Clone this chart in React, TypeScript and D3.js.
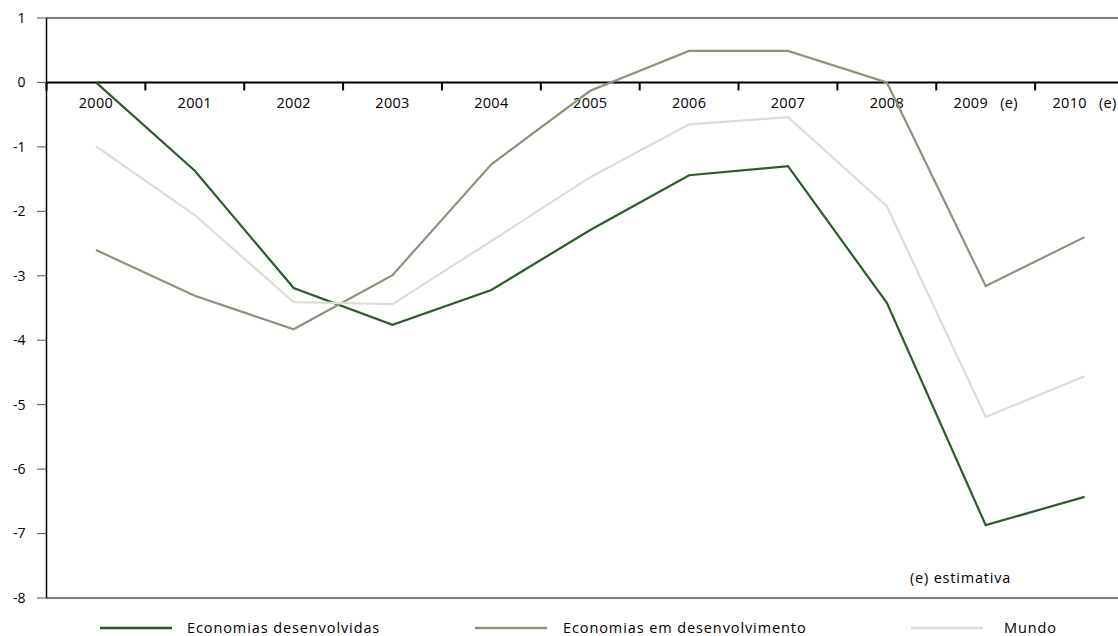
import React from "react";
import * as d3 from "d3";

const years = ["2000", "2001", "2002", "2003", "2004", "2005", "2006", "2007", "2008", "2009", "2010"];
const yearLabels = ["2000", "2001", "2002", "2003", "2004", "2005", "2006", "2007", "2008", "2009   (e)", "2010   (e)"];
const desenvolvidas = [0, -1.37, -3.19, -3.76, -3.22, -2.29, -1.44, -1.3, -3.42, -6.87, -6.43];
const emDesenvolvimento = [-2.6, -3.31, -3.83, -2.99, -1.27, -0.13, 0.49, 0.49, 0, -3.16, -2.4];
const mundo = [-0.99, -2.06, -3.41, -3.44, -2.46, -1.47, -0.65, -0.54, -1.92, -5.19, -4.56];
const yTicks = [1, 0, -1, -2, -3, -4, -5, -6, -7, -8];

const seriesNames = ["Economias desenvolvidas", "Economias em desenvolvimento", "Mundo"];
const seriesColors = ["#2e5a2c", "#87977c", "#dcded5"];

export default function App() {
  const W = 1118, H = 636;
  const left = 46.5, right = 1134, top = 18, bottom = 598;
  const x = d3.scaleBand<string>().domain(years).range([left, right]);
  const y = d3.scaleLinear().domain([-8, 1]).range([bottom, top]);
  const series = [desenvolvidas, emDesenvolvimento, mundo];
  const line = d3
    .line<number>()
    .x((_, i) => (x(years[i]) as number) + x.bandwidth() / 2)
    .y((d) => y(d));
  const font = "'Open Sans', 'DejaVu Sans', sans-serif";
  const legendY = 628;
  const legendPos = [
    { x1: 100, x2: 172, tx: 187 },
    { x1: 475, x2: 547, tx: 563 },
    { x1: 911, x2: 983, tx: 1004 },
  ];
  return (
    <svg width={W} height={H} style={{ position: "absolute", left: 0, top: 0, background: "#fff" }} fontFamily={font}>
      {/* frame */}
      <line x1={left} x2={W} y1={y(1)} y2={y(1)} stroke="#000" strokeWidth={1.2} />
      <line x1={left} x2={W} y1={y(-8)} y2={y(-8)} stroke="#000" strokeWidth={1.2} />
      <line x1={left} x2={left} y1={y(1)} y2={y(-8)} stroke="#000" strokeWidth={1.5} />
      {yTicks.map((t) => (
        <g key={t}>
          <line x1={37} x2={left} y1={y(t)} y2={y(t)} stroke="#555" strokeWidth={1} />
          <text x={25.5} y={y(t)} dy="0.35em" textAnchor="end" fontSize={14} fill="#000">
            {t}
          </text>
        </g>
      ))}
      {/* zero axis */}
      <line x1={left} x2={W} y1={y(0)} y2={y(0)} stroke="#000" strokeWidth={2} />
      {years.map((yr, i) => (
        <g key={yr}>
          <line
            x1={x(yr) as number}
            x2={x(yr) as number}
            y1={y(0)}
            y2={y(0) + 8}
            stroke="#000"
            strokeWidth={2}
          />
          <text
            x={(x(yr) as number) + x.bandwidth() / 2}
            y={y(0) + 25.5}
            textAnchor="middle"
            fontSize={14.5}
            fill="#000"
            letterSpacing={0.3}
            style={{ whiteSpace: "pre" }}
          >
            {yearLabels[i]}
          </text>
        </g>
      ))}
      {series.map((s, i) => (
        <path key={i} d={line(s) || ""} fill="none" stroke={seriesColors[i]} strokeWidth={2.2} />
      ))}
      <text x={910} y={583} fontSize={14.5} fill="#000" letterSpacing={0.8}>
        (e) estimativa
      </text>
      {seriesNames.map((n, i) => (
        <g key={n}>
          <line x1={legendPos[i].x1} x2={legendPos[i].x2} y1={legendY} y2={legendY} stroke={seriesColors[i]} strokeWidth={2.5} />
          <text x={legendPos[i].tx} y={legendY} dy="0.35em" fontSize={14.5} fill="#000" letterSpacing={0.9}>
            {n}
          </text>
        </g>
      ))}
    </svg>
  );
}
